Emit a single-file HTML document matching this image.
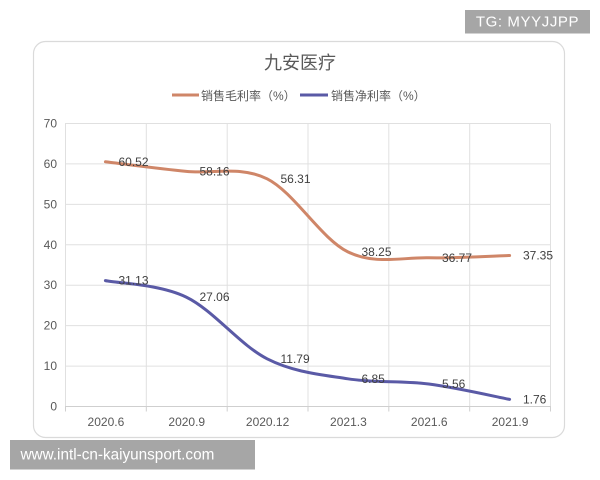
<!DOCTYPE html>
<html>
<head>
<meta charset="utf-8">
<style>
html,body{margin:0;padding:0;background:#fff;}
body{width:600px;height:480px;overflow:hidden;}
svg{display:block;}
text{font-family:"Liberation Sans","Noto Sans CJK SC",sans-serif;}
</style>
</head>
<body>
<svg width="600" height="480" viewBox="0 0 600 480" xmlns="http://www.w3.org/2000/svg">
  <rect x="0" y="0" width="600" height="480" fill="#ffffff"/>
  <!-- card -->
  <rect x="33.5" y="41.5" width="531" height="396" rx="12" ry="12" fill="#ffffff" stroke="#dadada" stroke-width="1.2"/>

  <!-- TG badge -->
  <rect x="465" y="10" width="125" height="23.5" fill="#a6a6a6"/>
  <text x="527.5" y="22" font-size="15" fill="#ffffff" text-anchor="middle" dominant-baseline="central" letter-spacing="0.6">TG: MYYJJPP</text>

  <!-- title -->
  <text x="300" y="63" font-size="18" fill="#595959" text-anchor="middle" dominant-baseline="central" font-family="'Noto Sans CJK SC',sans-serif">九安医疗</text>

  <!-- legend -->
  <line x1="172" y1="95" x2="199" y2="95" stroke="#cf8668" stroke-width="3"/>
  <text x="201" y="96" font-size="12" fill="#595959" dominant-baseline="central">销售毛利率（%）</text>
  <line x1="300" y1="95" x2="328" y2="95" stroke="#5a5aa6" stroke-width="3"/>
  <text x="331" y="96" font-size="12" fill="#595959" dominant-baseline="central">销售净利率（%）</text>

  <!-- horizontal gridlines -->
  <g stroke="#e0e0e0" stroke-width="1">
    <line x1="65" y1="123.5" x2="550" y2="123.5"/>
    <line x1="65" y1="163.9" x2="550" y2="163.9"/>
    <line x1="65" y1="204.4" x2="550" y2="204.4"/>
    <line x1="65" y1="244.8" x2="550" y2="244.8"/>
    <line x1="65" y1="285.2" x2="550" y2="285.2"/>
    <line x1="65" y1="325.6" x2="550" y2="325.6"/>
    <line x1="65" y1="366.1" x2="550" y2="366.1"/>
  </g>
  <!-- vertical gridlines -->
  <g stroke="#e0e0e0" stroke-width="1">
    <line x1="65.5" y1="123.5" x2="65.5" y2="406.5"/>
    <line x1="146.3" y1="123.5" x2="146.3" y2="406.5"/>
    <line x1="227.2" y1="123.5" x2="227.2" y2="406.5"/>
    <line x1="308" y1="123.5" x2="308" y2="406.5"/>
    <line x1="388.8" y1="123.5" x2="388.8" y2="406.5"/>
    <line x1="469.7" y1="123.5" x2="469.7" y2="406.5"/>
    <line x1="550.5" y1="123.5" x2="550.5" y2="406.5"/>
  </g>
  <!-- x axis + ticks -->
  <g stroke="#cfcfcf" stroke-width="1">
    <line x1="65" y1="406.5" x2="551" y2="406.5"/>
    <line x1="65.5" y1="406.5" x2="65.5" y2="411.5"/>
    <line x1="146.3" y1="406.5" x2="146.3" y2="411.5"/>
    <line x1="227.2" y1="406.5" x2="227.2" y2="411.5"/>
    <line x1="308" y1="406.5" x2="308" y2="411.5"/>
    <line x1="388.8" y1="406.5" x2="388.8" y2="411.5"/>
    <line x1="469.7" y1="406.5" x2="469.7" y2="411.5"/>
    <line x1="550.5" y1="406.5" x2="550.5" y2="411.5"/>
  </g>

  <!-- y labels -->
  <g font-size="12" fill="#595959" text-anchor="end" dominant-baseline="central">
    <text x="57" y="123.5">70</text>
    <text x="57" y="163.9">60</text>
    <text x="57" y="204.4">50</text>
    <text x="57" y="244.8">40</text>
    <text x="57" y="285.2">30</text>
    <text x="57" y="325.6">20</text>
    <text x="57" y="366.1">10</text>
    <text x="57" y="406.5">0</text>
  </g>
  <!-- x labels -->
  <g font-size="12" fill="#595959" text-anchor="middle" dominant-baseline="central">
    <text x="105.9" y="422">2020.6</text>
    <text x="186.75" y="422">2020.9</text>
    <text x="267.6" y="422">2020.12</text>
    <text x="348.4" y="422">2021.3</text>
    <text x="429.25" y="422">2021.6</text>
    <text x="510.1" y="422">2021.9</text>
  </g>

  <!-- orange series -->
  <path d="M105.4,161.8 C118.9,163.4 159.3,168.6 186.25,171.4 C213.2,174.2 240.2,165.4 267.1,178.8 C294.0,192.2 321.0,238.7 347.9,251.9 C374.8,265.1 401.8,257.2 428.75,257.8 C455.7,258.4 496.1,255.9 509.6,255.5"
        fill="none" stroke="#cf8668" stroke-width="3" stroke-linecap="round" stroke-linejoin="round"/>
  <!-- blue series -->
  <path d="M105.4,280.6 C118.9,283.35 159.3,284.1 186.25,297.1 C213.2,310.1 240.2,345.2 267.1,358.8 C294.0,372.4 321.0,374.6 347.9,378.8 C374.8,383.0 401.8,380.6 428.75,384.0 C455.7,387.4 496.1,396.8 509.6,399.4"
        fill="none" stroke="#5a5aa6" stroke-width="3" stroke-linecap="round" stroke-linejoin="round"/>

  <!-- data labels -->
  <g font-size="12" fill="#404040" dominant-baseline="central">
    <text x="118.5" y="161.8">60.52</text>
    <text x="199.5" y="171.4">58.16</text>
    <text x="280.5" y="178.8">56.31</text>
    <text x="361.5" y="251.9">38.25</text>
    <text x="442" y="257.8">36.77</text>
    <text x="523" y="255.5">37.35</text>

    <text x="118.5" y="280.6">31.13</text>
    <text x="199.5" y="297.1">27.06</text>
    <text x="280.5" y="358.8">11.79</text>
    <text x="361.5" y="378.8">6.85</text>
    <text x="442" y="384">5.56</text>
    <text x="523" y="399.4">1.76</text>
  </g>

  <!-- bottom watermark -->
  <rect x="10" y="440" width="245" height="29.5" fill="#a6a6a6"/>
  <text x="20.5" y="455" font-size="15.3" fill="#ffffff" dominant-baseline="central">www.intl-cn-kaiyunsport.com</text>
</svg>
</body>
</html>
